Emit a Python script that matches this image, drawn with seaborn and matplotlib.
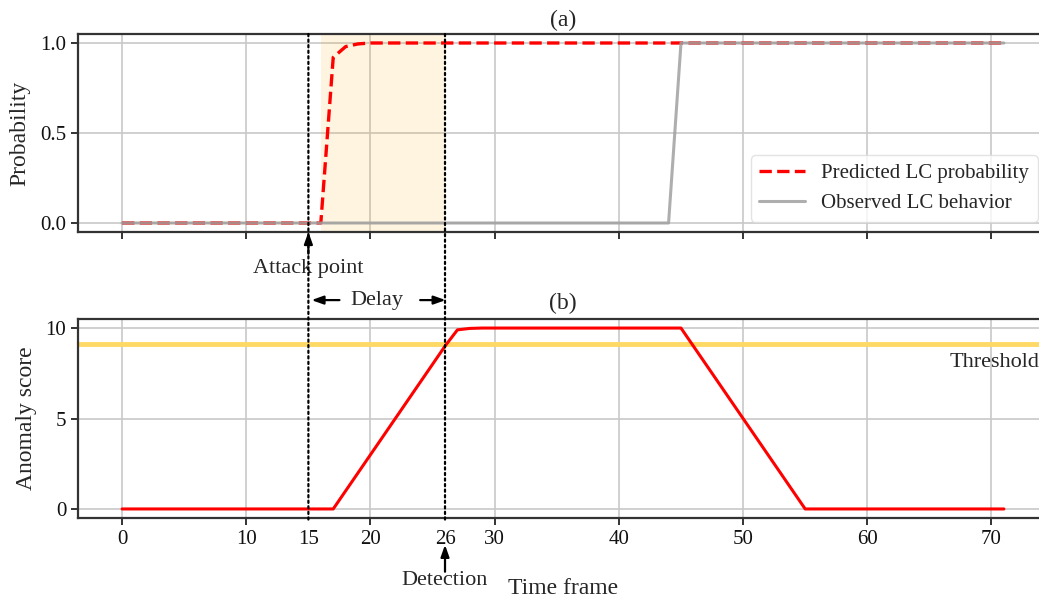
import matplotlib
matplotlib.use("Agg")
import matplotlib.pyplot as plt
import seaborn as sns
import pandas as pd
from matplotlib.patches import ConnectionPatch

# ---- data ----
pred_t = [0, 16, 17, 18, 19, 20, 71]
pred_v = [0.0, 0.0, 0.92, 0.98, 0.995, 1.0, 1.0]
obs_t = [0, 44, 45, 71]
obs_v = [0.0, 0.0, 1.0, 1.0]
score_t = [0, 17, 26, 27, 28, 29, 45, 55, 71]
score_v = [0.0, 0.0, 9.0, 9.9, 9.98, 10.0, 10.0, 0.0, 0.0]
threshold = 9.1
attack_t = 15
detect_t = 26
span_t = [16, 26]
xticks_major = [0, 10, 20, 30, 40, 50, 60, 70]
xticks_minor = [15, 26]
yticks_a = [0.0, 0.5, 1.0]
yticks_b = [0, 5, 10]

sns.set_theme(style="ticks")
plt.rcParams["font.family"] = ["Liberation Serif", "DejaVu Serif"]

W, H = 1039, 600
fig = plt.figure(figsize=(W / 100, H / 100), dpi=100)

def rect(l, t, r, b):
    return [l / W, (H - b) / H, (r - l) / W, (b - t) / H]

ax1 = fig.add_axes(rect(78, 34, 1048, 232))
ax2 = fig.add_axes(rect(78, 319, 1048, 518))

TICK = 15
LAB = 17
ANN = 16

grid_kw = dict(color="#c8c8c8", lw=1.2)
for ax in (ax1, ax2):
    ax.set_xlim(-3.55, 74.55)
    ax.set_xticks(xticks_major)
    ax.grid(True, which="major", **grid_kw)
    ax.set_axisbelow(True)
    for s in ax.spines.values():
        s.set_color("#333333")
        s.set_linewidth(1.6)
    ax.tick_params(axis="both", labelsize=TICK, colors="#111111", width=1.2, length=5)

# ---- (a) ----
ax1.axvspan(span_t[0], span_t[1], color="orange", alpha=0.12, lw=0)
df_pred = pd.DataFrame({"t": pred_t, "v": pred_v})
df_obs = pd.DataFrame({"t": obs_t, "v": obs_v})
sns.lineplot(data=df_pred, x="t", y="v", ax=ax1, color="red", linestyle="--", lw=2.4,
             label="Predicted LC probability")
sns.lineplot(data=df_obs, x="t", y="v", ax=ax1, color="#a0a0a0", lw=2.2, alpha=0.85,
             label="Observed LC behavior")
ax1.set_ylim(-0.05, 1.05)
ax1.set_yticks(yticks_a)
ax1.set_yticklabels(["0.0", "0.5", "1.0"])
ax1.set_xticklabels([])
ax1.set_xlabel("")
ax1.set_ylabel("Probability", fontsize=LAB)
ax1.yaxis.set_label_coords(-0.049, 0.5)
ax1.set_title("(a)", fontsize=LAB, pad=6)
leg = ax1.legend(loc="lower right", fontsize=15, frameon=True, fancybox=True,
                 borderaxespad=0.5, handlelength=2.2)
leg.get_frame().set_edgecolor("#dddddd")

# ---- (b) ----
ax2.axhline(threshold, color="#ffd966", lw=3.5)
df_score = pd.DataFrame({"t": score_t, "v": score_v})
sns.lineplot(data=df_score, x="t", y="v", ax=ax2, color="red", lw=2.2)
ax2.set_ylim(-0.5, 10.5)
ax2.set_yticks(yticks_b)
ax2.set_xticks(xticks_minor, minor=True)
ax2.set_xticklabels([str(v) for v in xticks_minor], minor=True)
ax2.tick_params(axis="x", which="minor", labelsize=TICK, colors="#111111", length=0, pad=8.5)
ax2.set_ylabel("Anomaly score", fontsize=LAB)
ax2.yaxis.set_label_coords(-0.042, 0.5)
ax2.set_xlabel("Time frame", fontsize=LAB)
ax2.xaxis.set_label_coords(0.5, -0.30)
ax2.set_title("(b)", fontsize=LAB, pad=7)
ax2.text(66.6, 8.1, "Threshold", fontsize=ANN, ha="left", va="center")

# ---- vertical dotted markers across both panels ----
for tx in (attack_t, detect_t):
    con = ConnectionPatch(xyA=(tx, 1.0), coordsA=ax1.get_xaxis_transform(),
                          xyB=(tx, -0.02), coordsB=ax2.get_xaxis_transform(),
                          linestyle=(0, (1, 1.5)), color="black", lw=1.6)
    fig.add_artist(con)

arrow = dict(arrowstyle="-|>,head_length=0.7,head_width=0.25", color="black", lw=1.6,
             mutation_scale=10, shrinkA=0, shrinkB=0)

# Attack point
ax1.annotate("", xy=(attack_t, 0.0), xycoords=ax1.get_xaxis_transform(),
             xytext=(attack_t, -0.11), textcoords=ax1.get_xaxis_transform(),
             arrowprops=arrow, annotation_clip=False)
ax1.text(attack_t, -0.185, "Attack point", transform=ax1.get_xaxis_transform(),
         ha="center", va="center", fontsize=ANN)

# Delay
ax2.annotate("", xy=(15.25, 1.095), xycoords=ax2.get_xaxis_transform(),
             xytext=(17.5, 1.095), textcoords=ax2.get_xaxis_transform(),
             arrowprops=arrow, annotation_clip=False)
ax2.annotate("", xy=(26.05, 1.095), xycoords=ax2.get_xaxis_transform(),
             xytext=(24.0, 1.095), textcoords=ax2.get_xaxis_transform(),
             arrowprops=arrow, annotation_clip=False)
ax2.text(20.55, 1.095, "Delay", transform=ax2.get_xaxis_transform(),
         ha="center", va="center", fontsize=ANN)

# Detection
ax2.annotate("", xy=(detect_t, -0.135), xycoords=ax2.get_xaxis_transform(),
             xytext=(detect_t, -0.27), textcoords=ax2.get_xaxis_transform(),
             arrowprops=arrow, annotation_clip=False)
ax2.text(detect_t, -0.315, "Detection", transform=ax2.get_xaxis_transform(),
         ha="center", va="center", fontsize=ANN)

fig.savefig("out.png", dpi=100)
